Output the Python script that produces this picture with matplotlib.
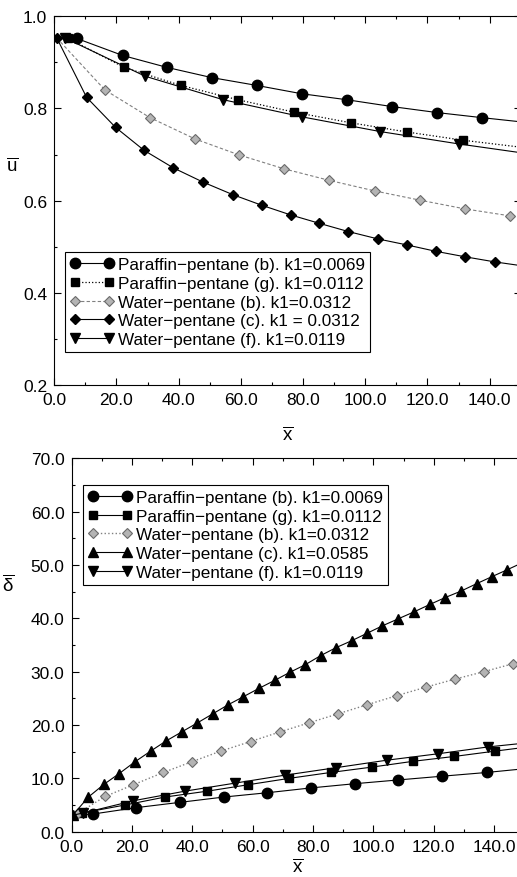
import matplotlib
matplotlib.use('Agg')
import matplotlib.pyplot as plt
from matplotlib.ticker import MultipleLocator, FormatStrFormatter

plt.rcParams['font.family'] = ['Liberation Sans', 'DejaVu Sans']
plt.rcParams['mathtext.fontset'] = 'custom'
plt.rcParams['mathtext.rm'] = 'Liberation Sans'
plt.rcParams['mathtext.it'] = 'Liberation Sans'

# ---- top panel: u bar vs x bar (first and last points only carry the line)
u_circ_x = [0.8, 7.2, 22.0, 36.3, 50.6, 65.1, 79.5, 94.0, 108.7, 123.2, 137.6, 150]
u_circ_y = [0.953, 0.952, 0.915, 0.889, 0.867, 0.850, 0.832, 0.819, 0.804, 0.791, 0.780, 0.771]
u_sq_x = [0.8, 4.5, 22.5, 40.7, 59.0, 77.1, 95.3, 113.3, 131.5, 150]
u_sq_y = [0.953, 0.952, 0.889, 0.850, 0.819, 0.792, 0.769, 0.749, 0.731, 0.716]
u_gd_x = [0.8, 16.3, 30.8, 45.2, 59.5, 73.9, 88.4, 103.1, 117.6, 132.1, 146.5, 150]
u_gd_y = [0.953, 0.840, 0.780, 0.734, 0.699, 0.669, 0.644, 0.621, 0.601, 0.582, 0.567, 0.563]
u_dia_x = [0.8, 10.4, 19.7, 28.9, 38.3, 47.9, 57.4, 66.7, 76.0, 85.1, 94.5, 104.0,
           113.3, 122.7, 132.2, 141.7, 150]
u_dia_y = [0.953, 0.824, 0.759, 0.709, 0.671, 0.640, 0.613, 0.590, 0.569, 0.551, 0.533,
           0.517, 0.504, 0.490, 0.478, 0.467, 0.459]
u_tri_x = [0.8, 3.4, 29.2, 54.3, 79.5, 104.7, 130.1, 150]
u_tri_y = [0.953, 0.953, 0.870, 0.819, 0.782, 0.750, 0.723, 0.704]

# ---- bottom panel: delta bar vs x bar
d_circ_x = [0.4, 7.0, 21.3, 35.9, 50.5, 64.8, 79.2, 93.9, 108.2, 122.7, 137.5, 150]
d_circ_y = [3.1, 3.3, 4.5, 5.5, 6.5, 7.3, 8.2, 9.0, 9.7, 10.4, 11.1, 11.8]
d_sq_x = [0.4, 3.4, 17.7, 31.0, 45.0, 58.5, 72.1, 85.8, 99.4, 113.2, 126.7, 140.2, 150]
d_sq_y = [3.1, 3.5, 5.0, 6.5, 7.6, 8.8, 10.0, 11.1, 12.1, 13.2, 14.1, 15.1, 15.8]
d_gd_x = [0.4, 2.3, 11.1, 20.5, 30.4, 39.8, 49.4, 59.3, 69.0, 78.6, 88.3, 97.9, 107.7,
          117.4, 127.0, 136.6, 146.3, 150]
d_gd_y = [3.1, 3.5, 6.6, 8.8, 11.1, 13.1, 15.1, 16.9, 18.7, 20.4, 22.1, 23.8, 25.5,
          27.1, 28.6, 30.0, 31.5, 32.2]
d_tri_x = [0.4, 5.6, 10.8, 15.8, 21.0, 26.2, 31.3, 36.5, 41.7, 46.8, 51.9, 56.9, 62.2,
           67.4, 72.4, 77.4, 82.5, 87.6, 92.8, 97.9, 103.0, 108.2, 113.4, 118.7, 123.8,
           129.0, 134.2, 139.2, 144.3, 150]
d_tri_y = [3.1, 6.5, 8.9, 10.9, 13.1, 15.1, 17.0, 18.7, 20.4, 22.1, 23.8, 25.3, 26.9,
           28.4, 29.9, 31.3, 33.0, 34.5, 35.8, 37.2, 38.6, 39.9, 41.2, 42.6, 43.9, 45.1,
           46.5, 47.8, 49.1, 50.6]
d_tv_x = [0.4, 3.9, 20.5, 37.6, 54.1, 70.7, 87.6, 104.4, 121.3, 138.1, 150]
d_tv_y = [3.1, 3.5, 5.8, 7.6, 9.1, 10.6, 12.0, 13.4, 14.6, 15.9, 16.6]

top_labels = ['Paraffin\u2212pentane (b). k1=0.0069',
              'Paraffin\u2212pentane (g). k1=0.0112',
              'Water\u2212pentane (b). k1=0.0312',
              'Water\u2212pentane (c). k1 = 0.0312',
              'Water\u2212pentane (f). k1=0.0119']
bot_labels = ['Paraffin\u2212pentane (b). k1=0.0069',
              'Paraffin\u2212pentane (g). k1=0.0112',
              'Water\u2212pentane (b). k1=0.0312',
              'Water\u2212pentane (c). k1=0.0585',
              'Water\u2212pentane (f). k1=0.0119']

FS = 12.5
LFS = 12.3
gray_face = '#b4b4b4'
gray_edge = '#6a6a6a'

fig = plt.figure(figsize=(5.17, 8.78), dpi=100)
ax1 = fig.add_axes([0.105, 0.5604, 0.9023, 0.4199])
ax2 = fig.add_axes([0.1383, 0.0516, 0.876, 0.4253])

mid = slice(1, -1)

ax1.plot(u_circ_x, u_circ_y, '-', color='k', lw=0.8, marker='o', ms=7.5, markevery=mid,
         label=top_labels[0])
ax1.plot(u_sq_x, u_sq_y, ':', color='k', lw=0.9, marker='s', ms=6, markevery=mid,
         label=top_labels[1])
ax1.plot(u_gd_x, u_gd_y, color='#808080', ls=(0, (3, 2)), lw=0.8, marker='D', ms=5,
         mfc=gray_face, mec=gray_edge, mew=0.8, markevery=mid, label=top_labels[2])
ax1.plot(u_dia_x, u_dia_y, '-', color='k', lw=0.8, marker='D', ms=5.5, markevery=slice(0, -1),
         label=top_labels[3])
ax1.plot(u_tri_x, u_tri_y, '-', color='k', lw=0.8, marker='v', ms=7.5, markevery=mid,
         label=top_labels[4])

ax2.plot(d_circ_x, d_circ_y, '-', color='k', lw=0.8, marker='o', ms=7.5, markevery=mid,
         label=bot_labels[0])
ax2.plot(d_sq_x, d_sq_y, '-', color='k', lw=0.8, marker='s', ms=6, markevery=mid,
         label=bot_labels[1])
ax2.plot(d_gd_x, d_gd_y, color='#808080', ls=':', lw=1.0, marker='D', ms=5,
         mfc=gray_face, mec=gray_edge, mew=0.8, markevery=mid, label=bot_labels[2])
ax2.plot(d_tri_x, d_tri_y, '-', color='k', lw=0.8, marker='^', ms=7, markevery=slice(0, -1),
         label=bot_labels[3])
ax2.plot(d_tv_x, d_tv_y, '-', color='k', lw=0.8, marker='v', ms=7.5, markevery=mid,
         label=bot_labels[4])

ax1.set_xlim(0, 150)
ax1.set_ylim(0.2, 1.0)
ax1.yaxis.set_major_locator(MultipleLocator(0.2))
ax1.yaxis.set_minor_locator(MultipleLocator(0.1))
ax1.yaxis.set_major_formatter(FormatStrFormatter('%.1f'))

ax2.set_xlim(0, 150)
ax2.set_ylim(0, 70)
ax2.yaxis.set_major_locator(MultipleLocator(10))
ax2.yaxis.set_minor_locator(MultipleLocator(5))
ax2.yaxis.set_major_formatter(FormatStrFormatter('%.1f'))

for ax in (ax1, ax2):
    ax.xaxis.set_major_locator(MultipleLocator(20))
    ax.xaxis.set_minor_locator(MultipleLocator(10))
    ax.xaxis.set_major_formatter(FormatStrFormatter('%.1f'))
    ax.tick_params(which='both', direction='in', top=True, right=True, labelsize=FS,
                   width=0.8)
    ax.tick_params(which='major', length=5, pad=5)
    ax.tick_params(which='minor', length=2.5)
    for sp in ax.spines.values():
        sp.set_linewidth(0.8)
    ax.set_xlabel(r'$\overline{\mathrm{x}}$', fontsize=FS + 1)

ax1.xaxis.set_label_coords(0.5, -0.11)
ax2.xaxis.set_label_coords(0.5, -0.07)

ax1.set_ylabel(r'$\overline{\mathrm{u}}$', fontsize=FS + 1, rotation=0)
ax1.yaxis.set_label_coords(-0.09, 0.57)
ax2.set_ylabel(r'$\overline{\delta}$', fontsize=FS + 1, rotation=0)
ax2.yaxis.set_label_coords(-0.14, 0.635)

for ax, anchor in ((ax1, (0.023, 0.361)), (ax2, (0.025, 0.929))):
    leg = ax.legend(loc='upper left', bbox_to_anchor=anchor, borderaxespad=0,
                    fontsize=LFS, numpoints=2, handlelength=2.6, handletextpad=0.2,
                    labelspacing=0.22, borderpad=0.3, fancybox=False, framealpha=1,
                    edgecolor='k')
    leg.get_frame().set_linewidth(0.8)

fig.savefig('out.png', dpi=100)
